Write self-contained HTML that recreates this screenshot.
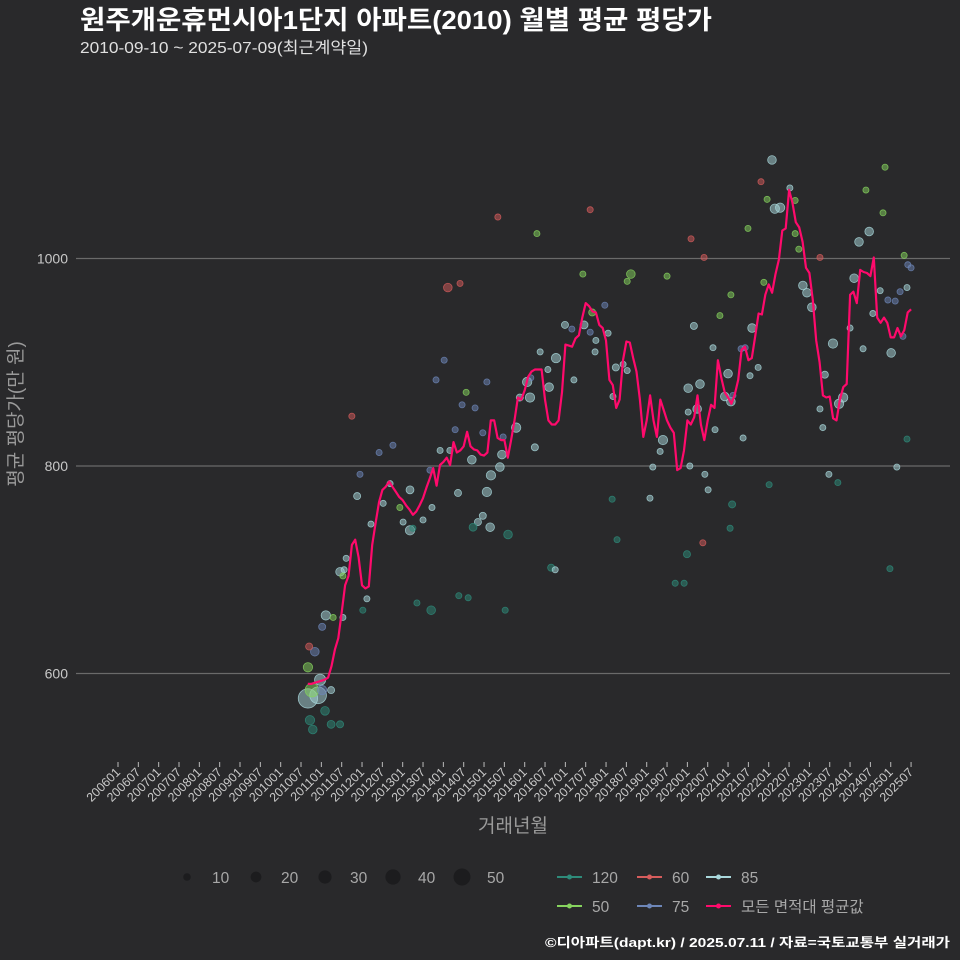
<!DOCTYPE html>
<html><head><meta charset="utf-8">
<style>
html,body{margin:0;padding:0;background:#29292b;width:960px;height:960px;overflow:hidden;}
svg{display:block;}
svg text{font-family:"Liberation Sans","Noto Sans CJK KR",sans-serif;}
</style></head>
<body>
<svg id="chart" width="960" height="960" viewBox="0 0 960 960" xmlns="http://www.w3.org/2000/svg">
<rect x="0" y="0" width="960" height="960" fill="#29292b"/>
<text x="80" y="29" fill="#ffffff" font-size="26" font-weight="bold" textLength="632" lengthAdjust="spacingAndGlyphs">원주개운휴먼시아1단지 아파트(2010) 월별 평균 평당가</text>
<text x="80" y="53" fill="#e0e0e0" font-size="16" textLength="288" lengthAdjust="spacingAndGlyphs">2010-09-10 ~ 2025-07-09(최근계약일)</text>
<g id="grid"></g>
<g id="points"></g>
<g id="line"></g>
<g id="xaxis"></g>
<text transform="translate(22,414) rotate(-90)" text-anchor="middle" fill="#9a9a9a" font-size="19">평균 평당가(만 원)</text>
<text x="513" y="832" text-anchor="middle" fill="#9a9a9a" font-size="19">거래년월</text>
<g id="legend"></g>
<text x="950" y="947" text-anchor="end" fill="#ffffff" font-size="13" font-weight="bold" textLength="405" lengthAdjust="spacingAndGlyphs">©디아파트(dapt.kr) / 2025.07.11 / 자료=국토교통부 실거래가</text>
</svg>
<script>
const yTicks = [600, 800, 1000];
const lineStart = "2010-09";
const lineValues = [590,590,591,592,593,594,596,607,623,634,659,685,694,724,729,712,685,682,684,724,745,765,777,780,785,780,775,770,767,762,758,753,756,762,769,779,788,798,781,801,804,808,801,823,813,815,819,833,819,816,815,811,810,813,844,844,827,825,825,808,825,844,866,864,873,886,891,893,893,893,864,844,840,840,844,871,917,916,915,923,926,943,957,954,949,948,936,933,921,883,878,856,864,902,920,919,904,891,864,828,844,868,844,828,864,854,844,837,832,796,798,815,844,840,847,868,840,825,844,859,856,902,885,871,866,860,869,883,912,915,902,904,925,947,946,965,975,967,985,999,1027,1029,1066,1054,1035,1030,1016,991,986,960,921,900,868,866,867,846,844,864,876,879,965,968,957,989,987,986,983,1001,943,938,943,938,924,924,933,925,931,948,951];
const ptYear = [2010.67,2010.92,2010.77,2010.97,2010.67,2010.84,2010.70,2010.72,2011.09,2010.79,2011.24,2011.46,2011.02,2011.24,2011.11,2011.02,2011.29,2011.53,2011.46,2011.56,2011.53,2011.61,2011.75,2011.88,2011.95,2012.22,2012.02,2012.12,2012.42,2012.76,2012.69,2012.52,2013.18,2012.93,2013.01,2013.18,2013.25,2013.50,2013.67,2013.72,2013.70,2013.35,2013.92,2014.16,2014.29,2014.46,2014.56,2014.78,2014.41,2014.11,2014.02,2013.82,2015.07,2015.17,2014.97,2014.85,2014.97,2015.07,2014.70,2014.36,2014.73,2014.38,2014.61,2015.15,2015.39,2015.44,2015.59,2015.79,2015.47,2015.34,2015.52,2015.88,2016.06,2016.13,2016.25,2016.30,2016.15,2016.77,2016.60,2016.57,2016.65,2016.38,2016.75,2016.99,2017.16,2017.21,2017.43,2017.46,2017.61,2017.61,2017.66,2017.73,2017.75,2017.97,2018.05,2018.24,2018.17,2018.15,2018.27,2018.42,2018.52,2018.61,2018.52,2019.08,2019.15,2019.33,2019.50,2019.40,2019.70,2019.92,2019.99,2020.02,2020.02,2020.16,2020.24,2020.06,2020.31,2020.43,2020.51,2020.38,2020.09,2020.41,2020.63,2020.80,2020.68,2020.92,2021.00,2021.07,2021.07,2021.12,2021.05,2021.10,2021.32,2021.42,2021.37,2021.49,2021.54,2021.59,2021.74,2021.88,2022.01,2022.08,2021.81,2021.96,2022.15,2022.28,2022.52,2022.65,2022.65,2022.74,2022.84,2022.94,2023.06,2023.26,2023.33,2023.38,2023.58,2023.83,2023.73,2023.26,2023.48,2023.70,2024.00,2024.10,2024.22,2024.32,2024.39,2024.47,2024.56,2024.74,2024.81,2024.86,2024.93,2025.01,2024.98,2025.11,2025.15,2025.23,2025.33,2025.40,2025.42,2025.50,2025.40,2025.30];
const ptValue = [576,579,584,594,606,621,626,555,564,546,551,551,584,584,656,645,654,654,698,700,694,711,848,771,792,744,661,672,813,820,783,764,777,760,746,738,740,748,796,760,661,668,815,815,835,859,871,856,976,972,902,883,775,791,752,746,832,881,806,774,741,675,673,741,799,811,734,837,828,1040,661,866,881,866,818,1024,885,904,876,893,702,910,700,936,932,883,985,936,1047,929,948,910,921,955,928,895,867,768,729,898,892,985,978,769,799,814,983,825,687,687,715,875,852,935,855,800,879,792,777,726,1019,1001,914,945,835,867,889,965,862,868,740,763,913,914,827,1029,887,933,895,977,782,1095,1074,1057,1048,1049,1068,1056,1024,1009,974,967,953,855,837,888,918,866,860,1001,792,784,933,981,1016,913,1066,1026,947,969,1044,1088,960,909,701,959,799,968,1003,972,994,991,826,925];
const ptCount = [60,45,30,20,14,12,8,14,12,12,10,8,14,8,14,8,6,6,12,6,6,6,6,8,6,6,6,6,6,6,6,6,10,6,6,14,6,6,6,6,12,6,6,6,6,6,6,6,6,12,6,6,14,14,8,8,6,6,12,8,10,6,6,12,12,12,12,14,6,6,6,8,14,14,8,6,6,14,12,6,8,6,6,8,6,6,6,10,6,6,8,6,6,6,6,8,6,6,6,6,6,12,6,6,6,6,6,14,6,6,8,12,6,8,12,6,12,6,6,6,6,6,6,6,6,12,12,6,12,6,6,8,6,6,6,6,6,12,6,6,6,12,6,6,14,14,6,6,6,6,12,12,12,6,6,8,14,14,14,6,6,6,6,12,12,6,6,12,6,6,6,6,6,12,6,6,6,6,6,6,6,6,6,6];
const ptType = ["85","85","50","85","50","75","60","120","120","120","120","120","75","85","85","75","50","85","85","85","50","85","60","85","75","85","120","85","75","75","85","85","85","50","85","85","120","85","75","85","120","120","85","85","75","75","50","75","60","60","75","75","85","85","85","85","75","75","85","85","120","120","120","85","85","85","120","85","75","60","120","85","85","85","85","50","75","85","85","85","120","85","85","85","75","85","50","85","60","75","50","85","85","75","85","85","85","120","120","85","85","50","50","85","85","85","50","85","120","120","120","85","85","85","85","85","85","85","85","60","60","60","85","50","85","85","85","50","85","75","120","120","75","75","85","50","85","85","85","50","120","85","60","50","85","85","85","50","50","50","85","85","85","85","85","85","85","85","85","60","85","120","85","85","85","85","50","85","85","85","50","50","75","85","120","75","85","75","50","85","75","75","120","75"];
const legendSizes = [10,20,30,40,50];
const typeColor = {"120":"#2e8b7a","60":"#d65c5c","85":"#a9d8dc","50":"#86d35e","75":"#6d86b8"};

const NS = "http://www.w3.org/2000/svg";
const X0 = 118, PER_YEAR = 40.67;
function xScale(yr){ return X0 + (yr - 2006) * PER_YEAR; }
function yScale(v){ return 466 - (v - 800) * 1.0375; }
function rScale(n){ return 1.25 * Math.sqrt(n); }
function mk(tag, attrs, parent){ const e = document.createElementNS(NS, tag); for (const k in attrs) e.setAttribute(k, attrs[k]); parent.appendChild(e); return e; }

const grid = document.getElementById('grid');
yTicks.forEach(t => {
  const l = mk('line', {x1:76, x2:950, y1:yScale(t), y2:yScale(t), stroke:'#6a6a6a', 'stroke-width':1.2}, grid);
  
  
  const tx = mk('text', {x:68, y:yScale(t)+5, 'text-anchor':'end', fill:'#c8c8c8', 'font-size':14}, grid);
  tx.textContent = t;
  
  
});

const xa = document.getElementById('xaxis');
for (let i = 0; i < 40; i++) {
  const yr = 2006 + Math.floor(i / 2), mo = i % 2 ? 7 : 1;
  const label = yr + (mo === 1 ? '01' : '07');
  const x = xScale(yr + (mo - 1) / 12);
  const tk = mk('line', {x1:x, x2:x, y1:762, y2:767, stroke:'#bbbbbb', 'stroke-width':1}, xa);
  
  
  const t = mk('text', {x:x+3, y:773, 'text-anchor':'end', fill:'#c8c8c8', 'font-size':12.5, transform:'rotate(-45 ' + (x+3) + ' 773)'}, xa);
  t.textContent = label;
  
  
}

const pg = document.getElementById('points');
for (let i = 0; i < ptYear.length; i++) {
  const c = mk('circle', {cx:xScale(ptYear[i]), cy:yScale(ptValue[i]), r:rScale(ptCount[i]), fill:typeColor[ptType[i]], 'fill-opacity':0.5, stroke:typeColor[ptType[i]], 'stroke-opacity':0.8, 'stroke-width':0.8}, pg);
  
  
}

const sy = parseInt(lineStart.slice(0,4)), sm = parseInt(lineStart.slice(5,7)) - 1;
const pts = lineValues.map((v, i) => {
  const yr = sy + (sm + i) / 12;
  return xScale(yr).toFixed(1) + ',' + yScale(v).toFixed(1);
});
const pl = mk('polyline', {points:pts.join(' '), fill:'none', stroke:'#ff0a6c', 'stroke-width':2.2, 'stroke-linejoin':'round'}, document.getElementById('line'));



const lg = document.getElementById('legend');
const sizeX = [187, 256, 325, 393, 462];
legendSizes.forEach((s, i) => {
  const c = mk('circle', {cx:sizeX[i], cy:877, r:1.2*Math.sqrt(s), fill:'#1c1c1e'}, lg);
  
  
  const t = mk('text', {x:sizeX[i]+25, y:883, fill:'#a8a8a8', 'font-size':15.5}, lg);
  t.textContent = s;
  
  
});
const entries = [["120",557,877],["60",637,877],["85",706,877],["50",557,906],["75",637,906],["all",706,906]];
entries.forEach(e => {
  const col = e[0] === 'all' ? '#ff0a6c' : typeColor[e[0]];
  const g = mk('g', {}, lg);
  
  
  mk('line', {x1:e[1], x2:e[1]+25, y1:e[2], y2:e[2], stroke:col, 'stroke-width':2}, g);
  mk('circle', {cx:e[1]+12.5, cy:e[2], r:2.5, fill:col}, g);
  const t = mk('text', {x:e[1]+35, y:e[2]+6, fill:'#a8a8a8', 'font-size':15.5}, g);
  t.textContent = e[0] === 'all' ? '모든 면적대 평균값' : e[0];
});
</script>
</body></html>
